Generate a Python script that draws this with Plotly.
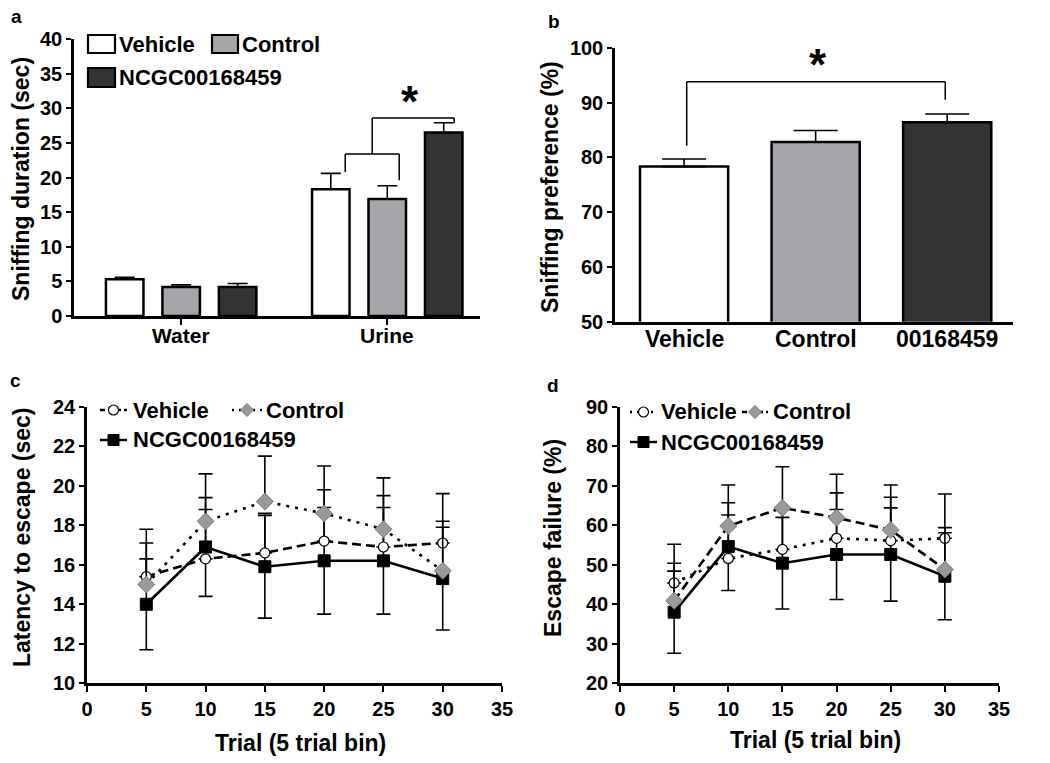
import plotly.graph_objects as go

W, H = 1050, 763

# ---------------- data ----------------
# Panel a: sniffing duration (sec)
a_groups = ["Water", "Urine"]
a_vehicle = [5.3, 18.3]
a_vehicle_err = [0.3, 2.3]
a_control = [4.2, 16.9]
a_control_err = [0.3, 1.9]
a_ncgc = [4.2, 26.5]
a_ncgc_err = [0.5, 1.4]

# Panel b: sniffing preference (%)
b_groups = ["Vehicle", "Control", "00168459"]
b_values = [78.3, 82.8, 86.4]
b_err = [1.4, 2.1, 1.5]

# Panel c: latency to escape (sec)
trials = [5, 10, 15, 20, 25, 30]
c_vehicle = [15.4, 16.3, 16.6, 17.2, 16.9, 17.1]
c_vehicle_err = [1.7, 2.5, 2.0, 2.6, 2.6, 2.5]
c_control = [15.0, 18.2, 19.2, 18.6, 17.8, 15.7]
c_control_err = [2.8, 2.4, 2.3, 2.4, 2.6, 2.5]
c_ncgc = [14.0, 16.9, 15.9, 16.2, 16.2, 15.3]
c_ncgc_err = [2.3, 2.5, 2.6, 2.7, 2.7, 2.6]

# Panel d: escape failure (%)
d_vehicle = [45.4, 51.6, 53.9, 56.7, 56.1, 56.7]
d_vehicle_err = [9.8, 11.0, 10.5, 11.5, 11.0, 11.2]
d_control = [40.9, 59.8, 64.4, 61.9, 58.8, 48.8]
d_control_err = [9.5, 10.4, 10.4, 11.0, 11.4, 10.6]
d_ncgc = [38.0, 54.6, 50.4, 52.6, 52.6, 47.1]
d_ncgc_err = [10.4, 11.1, 11.6, 11.4, 11.8, 11.0]

# significance brackets
a_bracket_low = 23.4
a_bracket_high = 28.6
b_bracket = 93.8

# ---------------- style ----------------
FONT = "Liberation Sans, Arial, Helvetica, sans-serif"
WHITE, GRAY, DARK = "#ffffff", "#a6a6aa", "#333333"
DIAMOND = "#999999"
TICKF = dict(family=FONT, size=20, color="black", weight=700)


def px(x):
    return x / W


def py(y):
    return 1 - y / H


fig = go.Figure()

# ---------------- panel a ----------------
cat_w = 0.182
a_offsets = [-0.274, 0.0, 0.274]
for vals, errs, col, off, name in [
    (a_vehicle, a_vehicle_err, WHITE, a_offsets[0], "Vehicle"),
    (a_control, a_control_err, GRAY, a_offsets[1], "Control"),
    (a_ncgc, a_ncgc_err, DARK, a_offsets[2], "NCGC00168459"),
]:
    fig.add_trace(go.Bar(
        x=a_groups, y=vals, name=name, xaxis="x", yaxis="y",
        width=cat_w, offset=off - cat_w / 2,
        marker=dict(color=col, line=dict(color="black", width=2.5)),
        error_y=dict(type="data", symmetric=False, array=errs,
                     arrayminus=[0] * len(errs), color="black",
                     thickness=1.6, width=10),
        showlegend=False,
    ))

# ---------------- panel b ----------------
fig.add_trace(go.Bar(
    x=b_groups, y=b_values, xaxis="x2", yaxis="y2", width=0.67,
    marker=dict(color=[WHITE, GRAY, DARK], line=dict(color="black", width=2.5)),
    error_y=dict(type="data", symmetric=False, array=b_err,
                 arrayminus=[0] * len(b_err), color="black",
                 thickness=1.6, width=22),
    showlegend=False,
))

# ---------------- panels c and d ----------------
def line_trace(xa, ya, y, err, kind, dash, both):
    if kind == "vehicle":
        marker = dict(symbol="circle", size=10, color="white",
                      line=dict(color="black", width=1.2))
    elif kind == "control":
        marker = dict(symbol="diamond", size=13, color=DIAMOND,
                      line=dict(color="#7a7a7a", width=1))
    else:
        marker = dict(symbol="square", size=12, color="black",
                      line=dict(color="black", width=1))
    return go.Scatter(
        x=trials, y=y, xaxis=xa, yaxis=ya, mode="lines+markers",
        line=dict(color="black", width=2.6, dash=dash), marker=marker,
        error_y=dict(type="data", symmetric=both, array=err,
                     arrayminus=None if both else [0] * len(err),
                     color="black", thickness=1.6, width=7),
        showlegend=False, cliponaxis=False,
    )


DOT = "3px,6px"
DASH = "9px,5px"
fig.add_trace(line_trace("x3", "y3", c_ncgc, c_ncgc_err, "ncgc", "solid", True))
fig.add_trace(line_trace("x3", "y3", c_vehicle, c_vehicle_err, "vehicle", DASH, False))
fig.add_trace(line_trace("x3", "y3", c_control, c_control_err, "control", DOT, False))

fig.add_trace(line_trace("x4", "y4", d_ncgc, d_ncgc_err, "ncgc", "solid", True))
fig.add_trace(line_trace("x4", "y4", d_vehicle, d_vehicle_err, "vehicle", DOT, False))
fig.add_trace(line_trace("x4", "y4", d_control, d_control_err, "control", DASH, False))

# ---------------- axes ----------------
def xax(domain, anchor, **kw):
    d = dict(domain=domain, anchor=anchor, showline=True, linecolor="black",
             linewidth=2.5, showgrid=False, zeroline=False, tickfont=TICKF,
             ticks="outside", ticklen=6, tickwidth=2, tickcolor="black",
             automargin=False)
    d.update(kw)
    return d


def yax(domain, anchor, **kw):
    d = dict(domain=domain, anchor=anchor, showline=True, linecolor="black",
             linewidth=2.5, showgrid=False, zeroline=False, tickfont=TICKF,
             ticks="outside", ticklen=5, tickwidth=2, tickcolor="black",
             automargin=False)
    d.update(kw)
    return d


fig.update_layout(
    template="none",
    xaxis=xax([px(74), px(480)], "y", type="category", range=[-0.52, 1.45],
              showticklabels=False),
    yaxis=yax([py(316), py(39)], "x", range=[0, 40], dtick=5),
    xaxis2=xax([px(615), px(1013)], "y2", type="category", range=[-0.525, 2.5],
               ticks="", showticklabels=False),
    yaxis2=yax([py(321.7), py(47.7)], "x2", range=[50, 100], dtick=10),
    xaxis3=xax([px(87), px(502)], "y3", range=[0, 35], dtick=5),
    yaxis3=yax([py(683.3), py(406.7)], "x3", range=[10, 24], dtick=2),
    xaxis4=xax([px(620), px(999)], "y4", range=[0, 35], dtick=5),
    yaxis4=yax([py(683.3), py(406.7)], "x4", range=[20, 90], dtick=10),
    barmode="overlay",
    width=W, height=H, margin=dict(l=0, r=0, t=0, b=0, pad=0, autoexpand=False),
    paper_bgcolor="white", plot_bgcolor="rgba(0,0,0,0)",
    font=dict(family=FONT, color="black"),
)

shapes = []
annotations = []


def line_data(xref, yref, x0, y0, x1, y1, w=1.5):
    shapes.append(dict(type="line", xref=xref, yref=yref, x0=x0, y0=y0,
                       x1=x1, y1=y1, line=dict(color="black", width=w)))


# category labels (a and b)
for i, g in enumerate(a_groups):
    annotations.append(dict(xref="x", yref="paper", x=i, y=py(335), text=g,
                            showarrow=False, yanchor="middle",
                            font=dict(family=FONT, size=21, color="black", weight=700)))
for i, g in enumerate(b_groups):
    annotations.append(dict(xref="x2", yref="paper", x=i, y=py(339), text=g,
                            showarrow=False, yanchor="middle",
                            font=dict(family=FONT, size=23, color="black", weight=700)))

# bracket in a
lv, lc, lm, ln = 0.796, 1.058, 0.927, 1.325
line_data("x", "y", lv, 20.8, lv, a_bracket_low)
line_data("x", "y", lv, a_bracket_low, lc, a_bracket_low)
line_data("x", "y", lc, a_bracket_low, lc, 19.6)
line_data("x", "y", lm, a_bracket_low, lm, a_bracket_high)
line_data("x", "y", lm, a_bracket_high, ln, a_bracket_high)
line_data("x", "y", ln, a_bracket_high, ln, 27.9)
annotations.append(dict(xref="x", yref="y", x=1.112, y=31.6, text="*",
                        showarrow=False, font=dict(family=FONT, size=44, weight=700),
                        yanchor="middle", yshift=-4))
# bracket in b
line_data("x2", "y2", 0.02, 82.1, 0.02, b_bracket)
line_data("x2", "y2", 0.02, b_bracket, 1.985, b_bracket)
line_data("x2", "y2", 1.985, b_bracket, 1.985, 90.5)
annotations.append(dict(xref="x2", yref="y2", x=1.02, y=97.7, text="*",
                        showarrow=False, font=dict(family=FONT, size=44, weight=700),
                        yanchor="middle", yshift=-4))


def text(x, y, s, size=21, xanchor="left", angle=0):
    annotations.append(dict(xref="paper", yref="paper", x=px(x), y=py(y), text=s,
                            showarrow=False, xanchor=xanchor, yanchor="middle",
                            textangle=angle,
                            font=dict(family=FONT, size=size, color="black", weight=700)))


# legend a
def box(x0, y0, x1, y1, col):
    shapes.append(dict(type="rect", xref="paper", yref="paper", x0=px(x0), y0=py(y1),
                       x1=px(x1), y1=py(y0), fillcolor=col,
                       line=dict(color="black", width=2.2)))


box(88, 35, 115, 53, WHITE)
text(117, 44, "Vehicle", 22)
box(212, 35, 238, 53, GRAY)
text(240, 44, "Control", 22)
box(88, 68, 115, 87, DARK)
text(117, 77, "NCGC00168459", 22)


# legend c / d
def sample(x0, x1, y, kind, dash):
    shapes.append(dict(type="line", xref="paper", yref="paper", x0=px(x0), y0=py(y),
                       x1=px(x1), y1=py(y), line=dict(color="black", width=2.4, dash=dash)))
    cx = (x0 + x1) / 2
    if kind == "vehicle":
        r = 5
        shapes.append(dict(type="circle", xref="paper", yref="paper",
                           x0=px(cx - r), x1=px(cx + r), y0=py(y + r), y1=py(y - r),
                           fillcolor="white", line=dict(color="black", width=1.2)))
    elif kind == "control":
        r = 6.5
        path = "M {} {} L {} {} L {} {} L {} {} Z".format(
            px(cx - r), py(y), px(cx), py(y - r), px(cx + r), py(y), px(cx), py(y + r))
        shapes.append(dict(type="path", xref="paper", yref="paper", path=path,
                           fillcolor=DIAMOND, line=dict(color="#7a7a7a", width=1)))
    else:
        r = 5.5
        shapes.append(dict(type="rect", xref="paper", yref="paper",
                           x0=px(cx - r), x1=px(cx + r), y0=py(y + r), y1=py(y - r),
                           fillcolor="black", line=dict(color="black", width=1)))


sample(100, 127, 410, "vehicle", "5px,3px")
text(131, 410, "Vehicle", 22)
sample(232, 262, 410, "control", "2px,5px")
text(264, 410, "Control", 22)
sample(100, 127, 440, "ncgc", "solid")
text(131, 440, "NCGC00168459", 22)

sample(630, 657, 412, "vehicle", "2px,5px")
text(659, 412, "Vehicle", 22)
sample(742, 768, 412, "control", "5px,3px")
text(771, 412, "Control", 22)
sample(630, 657, 442, "ncgc", "solid")
text(659, 442, "NCGC00168459", 22)

# axis titles
text(21, 179, "Sniffing duration (sec)", 23, "center", -90)
text(550, 187, "Sniffing preference (%)", 23, "center", -90)
text(22, 537, "Latency to escape (sec)", 23, "center", -90)
text(553, 538, "Escape failure (%)", 23, "center", -90)
text(300, 743, "Trial (5 trial bin)", 23, "center")
text(815, 740, "Trial (5 trial bin)", 23, "center")

# panel letters
text(9, 17, "a", 19)
text(546, 22, "b", 19)
text(8, 380, "c", 19)
text(545, 385, "d", 19)

fig.update_layout(shapes=shapes, annotations=annotations)
fig.write_html(
    "out.html",
    config={"displayModeBar": False},
    post_script="document.body.style.margin='0';document.body.style.overflow='hidden';",
)
